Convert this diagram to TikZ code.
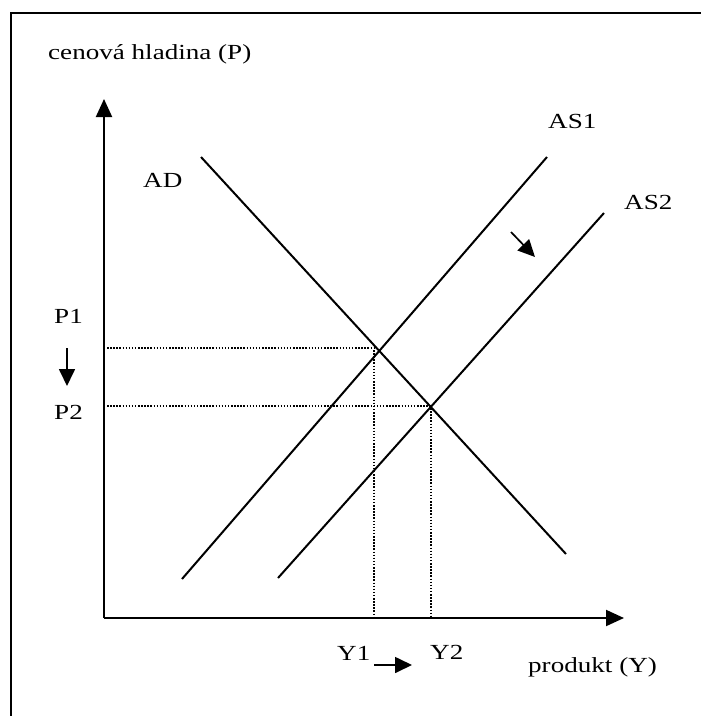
\documentclass[tikz,border=0pt]{standalone}
\usepackage{fontspec}
\usepackage{graphicx}
\setmainfont{Liberation Serif}
\usetikzlibrary{arrows.meta}
\newcommand{\wtxt}[1]{\scalebox{1.26}[1]{#1}}
\tikzset{
  frameline/.style={line width=2.2pt},
  axisline/.style={line width=2pt,-{Triangle[length=18pt,width=16pt]}},
  curveline/.style={line width=2pt},
  shiftarrow/.style={line width=1.7pt,-{Triangle[length=17pt,width=16pt]}},
  guideline/.style={line width=1.5pt,dash pattern=on 1.5pt off 1.6pt},
  lbl/.style={anchor=base west,inner sep=0pt,font=\fontsize{21.5}{24}\selectfont}
}
\begin{document}
\begin{tikzpicture}[x=1pt,y=-1pt]
\useasboundingbox (0,0) rectangle (701,716);
% frame (top and left only)
\coordinate (fTL) at (11,13);
\coordinate (fTR) at (701,13);
\coordinate (fBL) at (11,716);
\draw[frameline] (fBL) -- (fTL) -- (fTR);
% axes
\coordinate (O) at (104,618);
\coordinate (Ytop) at (104,99);
\coordinate (Xend) at (624,618);
\draw[axisline] (O) -- (Ytop);
\draw[axisline] (O) -- (Xend);
% curves
\coordinate (AD1) at (201,157);
\coordinate (AD2) at (566,554);
\coordinate (AS1a) at (182,579);
\coordinate (AS1b) at (547,157);
\coordinate (AS2a) at (278,578);
\coordinate (AS2b) at (604,213);
\draw[curveline] (AD1) -- (AD2);
\draw[curveline] (AS1a) -- (AS1b);
\draw[curveline] (AS2a) -- (AS2b);
% guide lines
\coordinate (p1l) at (107,348);
\coordinate (p1r) at (376,348);
\coordinate (y1t) at (374,350);
\coordinate (y1b) at (374,617);
\coordinate (p2l) at (107,406);
\coordinate (p2r) at (431,406);
\coordinate (y2t) at (431,408);
\coordinate (y2b) at (431,617);
\draw[guideline] (p1l) -- (p1r);
\draw[guideline] (y1t) -- (y1b);
\draw[guideline] (p2l) -- (p2r);
\draw[guideline] (y2t) -- (y2b);
% shift arrows
\coordinate (pa1) at (67,348);
\coordinate (pa2) at (67,386);
\coordinate (ya1) at (374,665);
\coordinate (ya2) at (412,665);
\coordinate (sa1) at (511,232);
\coordinate (sa2) at (535,257);
\draw[shiftarrow] (pa1) -- (pa2);
\draw[shiftarrow] (ya1) -- (ya2);
\draw[shiftarrow] (sa1) -- (sa2);
% labels
\node[lbl] (tP) at (48,59) {\wtxt{cenová hladina (P)}};
\node[lbl] (tAD) at (143,187) {\wtxt{AD}};
\node[lbl] (tAS1) at (548,128) {\wtxt{AS1}};
\node[lbl] (tAS2) at (624,209) {\wtxt{AS2}};
\node[lbl] (tP1) at (54,323) {\wtxt{P1}};
\node[lbl] (tP2) at (54,419) {\wtxt{P2}};
\node[lbl] (tY1) at (337,660) {\wtxt{Y1}};
\node[lbl] (tY2) at (430,659) {\wtxt{Y2}};
\node[lbl] (tY) at (528,672) {\wtxt{produkt (Y)}};
\end{tikzpicture}
\end{document}
